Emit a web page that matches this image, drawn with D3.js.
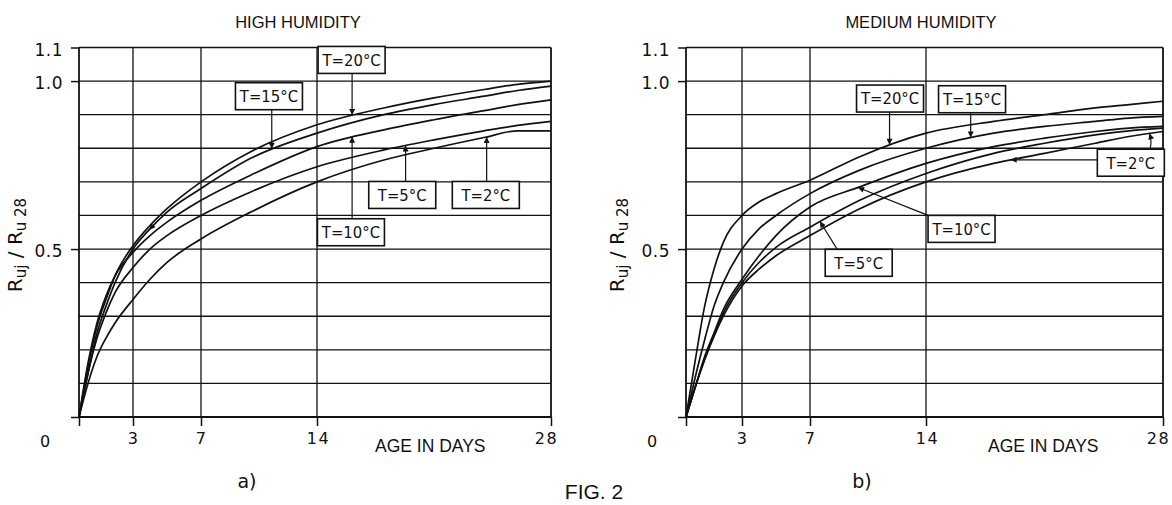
<!DOCTYPE html>
<html><head><meta charset="utf-8">
<script src="https://cdn.jsdelivr.net/npm/d3@7"></script>
<style>body{margin:0;background:#fff}svg{display:block}</style>
</head><body>
<svg id="c" width="1172" height="505"></svg>
<script>
// ---------- data ----------
const dayTicks = [0, 3, 7, 14, 28];
const dayLabels = ["3", "7", "14", "28"];
const gridValues = [0, 0.1, 0.2, 0.3, 0.4, 0.5, 0.6, 0.7, 0.8, 0.9, 1.0, 1.1];
const valueTicks = [0, 0.5, 1.0, 1.1];
const seriesNames = ["T=20°C", "T=15°C", "T=10°C", "T=5°C", "T=2°C"];
const days = [0, 0.5, 1, 1.5, 2, 3, 4, 5, 7, 10, 14, 18, 21, 24, 26, 28];

// a) HIGH HUMIDITY
const highT20 = [0, .15, .27, .35, .42, .51, .57, .62, .70, .79, .87, .92, .95, .975, .99, 1.0];
const highT15 = [0, .13, .25, .33, .40, .50, .56, .61, .68, .77, .845, .90, .93, .955, .972, .985];
const highT10 = [0, .16, .28, .36, .42, .49, .54, .58, .645, .72, .805, .855, .885, .912, .93, .944];
const highT5  = [0, .13, .235, .31, .37, .445, .50, .54, .60, .67, .745, .795, .825, .852, .868, .88];
const highT2  = [0, .10, .18, .235, .28, .35, .41, .46, .53, .61, .70, .765, .80, .832, .852, .852];

// b) MEDIUM HUMIDITY
const medT20 = [0, .17, .33, .44, .52, .60, .64, .665, .705, .775, .845, .88, .90, .92, .93, .94];
const medT15 = [0, .12, .23, .33, .40, .50, .56, .60, .665, .735, .80, .845, .865, .88, .89, .895];
const medT10 = [0, .09, .18, .25, .32, .41, .48, .54, .625, .685, .755, .805, .83, .85, .86, .865];
const medT5  = [0, .09, .175, .245, .31, .40, .46, .505, .565, .645, .725, .785, .815, .84, .852, .86];
const medT2  = [0, .09, .17, .24, .30, .39, .44, .48, .54, .62, .70, .755, .785, .815, .835, .85];

// label annotations: which series, target day on curve, label centre (day, value)
const highLabels = [
  {s: 0, day: 16.1, cx: 16.07, cy: 1.063},
  {s: 1, day: 11.27, cx: 11.1, cy: 0.955, mid: 4.2},
  {s: 2, day: 16.1, cx: 16.03, cy: 0.55},
  {s: 3, day: 19.3, cx: 19.1, cy: 0.661},
  {s: 4, day: 24.15, cx: 24.1, cy: 0.661}
];
const medLabels = [
  {s: 0, day: 11.8, cx: 11.83, cy: 0.948},
  {s: 1, day: 16.64, cx: 16.72, cy: 0.946},
  {s: 2, day: 9.9, cx: 16.1, cy: 0.56, from: 0},
  {s: 3, day: 7.6, cx: 9.94, cy: 0.459, from: 0.18},
  {s: 4, day: 19.0, cx: 26.1, cy: 0.757, extra: 27.2}
];

// ---------- layout ----------
const panels = [
  {title: "HIGH HUMIDITY", tag: "a)", data: [highT20, highT15, highT10, highT5, highT2], labels: highLabels,
   xr: [79, 133, 201, 317, 551], titleX: 298, ylabX: 22, ageX: 375, tagX: 247},
  {title: "MEDIUM HUMIDITY", tag: "b)", data: [medT20, medT15, medT10, medT5, medT2], labels: medLabels,
   xr: [686, 742, 810, 926, 1163], titleX: 921, ylabX: 624, ageX: 988, tagX: 862}
];
const svg = d3.select("#c");
const y = d3.scaleLinear().domain([0, 1.1]).range([417, 47.5]);
const ink = "#111";
const sans = "'Liberation Sans', Arial, sans-serif";
const din = "'DejaVu Sans', sans-serif";
const cond = "'DejaVu Sans Condensed', 'DejaVu Sans', sans-serif";

const defs = svg.append("defs");
defs.append("marker").attr("id", "arr").attr("viewBox", "0 0 10 10")
  .attr("refX", 10).attr("refY", 5).attr("markerWidth", 9).attr("markerHeight", 6)
  .attr("markerUnits", "userSpaceOnUse").attr("orient", "auto")
  .append("path").attr("d", "M0,0L10,5L0,10Z").attr("fill", ink);

function lenAtX(node, px) {
  let lo = 0, hi = node.getTotalLength();
  for (let i = 0; i < 40; i++) {
    const mid = (lo + hi) / 2;
    if (node.getPointAtLength(mid).x < px) lo = mid; else hi = mid;
  }
  return (lo + hi) / 2;
}
function yAtX(node, px) { return node.getPointAtLength(lenAtX(node, px)).y; }

panels.forEach(p => {
  const x = d3.scaleLinear().domain(dayTicks).range(p.xr);
  const g = svg.append("g");
  const x0 = x(0), x1 = x(28);

  // horizontal grid
  g.selectAll("line.h").data(gridValues).join("line").attr("class", "h")
    .attr("x1", x0).attr("x2", x1).attr("y1", d => y(d)).attr("y2", d => y(d))
    .attr("stroke", ink).attr("stroke-width", 1.3);
  // vertical grid / frame
  g.selectAll("line.v").data(dayTicks).join("line").attr("class", "v")
    .attr("x1", d => x(d)).attr("x2", d => x(d)).attr("y1", y(1.1)).attr("y2", y(0))
    .attr("stroke", ink).attr("stroke-width", d => (d === 0 || d === 28) ? 1.8 : 1.3);
  g.append("line").attr("x1", x0).attr("x2", x1).attr("y1", y(0)).attr("y2", y(0))
    .attr("stroke", ink).attr("stroke-width", 2);

  // x axis
  const xa = g.append("g").attr("transform", `translate(0,${y(0)})`)
    .call(d3.axisBottom(x).tickValues(dayTicks).tickSize(9).tickPadding(7)
      .tickFormat((d, i) => i === 0 ? "" : dayLabels[i - 1]));
  xa.select(".domain").remove();
  xa.selectAll("line").attr("stroke", ink).attr("stroke-width", 1.5);
  xa.selectAll("text").attr("font-family", din).attr("font-size", 16).attr("fill", ink)
    .attr("letter-spacing", 1.5).attr("dx", d => d === 28 ? -5 : (d === 14 ? 1 : 0));
  g.append("text").attr("x", x0 - 34).attr("y", 447).attr("text-anchor", "middle")
    .attr("font-family", din).attr("font-size", 16).attr("fill", ink).text("0");

  // y axis
  const ya = g.append("g").attr("transform", `translate(${x0},0)`)
    .call(d3.axisLeft(y).tickValues(valueTicks).tickSize(8).tickPadding(8)
      .tickFormat(d => d === 0 ? "" : d3.format(".1f")(d)));
  ya.select(".domain").remove();
  ya.selectAll("line").attr("stroke", ink).attr("stroke-width", 1.5);
  ya.selectAll("text").attr("font-family", din).attr("font-size", 17).attr("fill", ink)
    .attr("dy", "0.45em").attr("letter-spacing", 0.5);

  // y title
  const yt = g.append("text").attr("transform", `translate(${p.ylabX},245) rotate(-90)`)
    .attr("text-anchor", "middle").attr("font-family", din).attr("fill", ink);
  yt.append("tspan").attr("font-size", 20).text("R");
  yt.append("tspan").attr("font-size", 15).attr("dy", 4).text("uj");
  yt.append("tspan").attr("font-size", 20).attr("dy", -4).text(" / R");
  yt.append("tspan").attr("font-size", 15).attr("dy", 4).text("u 28");

  // titles and captions
  g.append("text").attr("x", p.titleX).attr("y", 28).attr("text-anchor", "middle")
    .attr("font-family", sans).attr("font-size", 16.5).attr("fill", ink).text(p.title);
  g.append("text").attr("x", p.ageX).attr("y", 452)
    .attr("font-family", sans).attr("font-size", 17.5).attr("fill", ink).text("AGE IN DAYS");
  g.append("text").attr("x", p.tagX).attr("y", 488).attr("text-anchor", "middle")
    .attr("font-family", din).attr("font-size", 19).attr("fill", ink).text(p.tag);

  // curves
  const line = d3.line().x((d, i) => x(days[i])).y(d => y(d)).curve(d3.curveMonotoneX);
  const paths = p.data.map(vals =>
    g.append("path").attr("d", line(vals)).attr("fill", "none")
      .attr("stroke", ink).attr("stroke-width", 1.7).node());

  // labels
  p.labels.forEach(L => {
    const bw = 67, bh = 27;
    const bx = x(L.cx) - bw / 2, by = y(L.cy) - bh / 2;
    const tx = x(L.day), ty = yAtX(paths[L.s], tx);
    let sx, sy;
    if (tx >= bx && tx <= bx + bw) { sx = tx; sy = ty < by ? by : by + bh; }
    else if (L.from !== undefined) { sx = bx + L.from * bw; sy = by; }
    else { sx = tx < bx ? bx : bx + bw; sy = ty; }
    g.append("line").attr("x1", sx).attr("y1", sy).attr("x2", tx).attr("y2", ty)
      .attr("stroke", ink).attr("stroke-width", 1.2).attr("marker-end", "url(#arr)");
    if (L.extra !== undefined) {
      const ex = x(L.extra), ey = yAtX(paths[L.s], ex);
      const ssx = bx + 0.78 * bw;
      g.append("path").attr("d", `M${ssx},${by}Q${ssx + 3},${(by + ey) / 2 + 2} ${ex},${ey}`)
        .attr("fill", "none").attr("stroke", ink).attr("stroke-width", 1.2).attr("marker-end", "url(#arr)");
    }
    if (L.mid !== undefined) {
      // small arrowhead drawn along the curve, pointing back toward the origin
      const node = paths[L.s], l = lenAtX(node, x(L.mid));
      const a = node.getPointAtLength(l), b = node.getPointAtLength(l - 6);
      g.append("line").attr("x1", a.x).attr("y1", a.y).attr("x2", b.x).attr("y2", b.y)
        .attr("stroke", "none").attr("marker-end", "url(#arr)");
    }
    g.append("rect").attr("x", bx).attr("y", by).attr("width", bw).attr("height", bh)
      .attr("fill", "#fff").attr("stroke", ink).attr("stroke-width", 1.6);
    g.append("text").attr("x", bx + bw / 2).attr("y", by + bh / 2).attr("dy", "0.36em")
      .attr("text-anchor", "middle").attr("font-family", cond).attr("font-size", 16.5)
      .attr("fill", ink).text(seriesNames[L.s]);
  });
});

svg.append("text").attr("x", 594).attr("y", 499).attr("text-anchor", "middle")
  .attr("font-family", sans).attr("font-size", 21).attr("fill", ink).text("FIG. 2");
</script>
</body></html>
